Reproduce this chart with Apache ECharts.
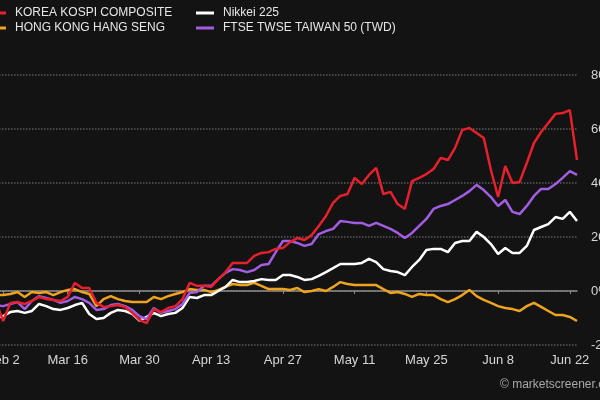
<!DOCTYPE html>
<html>
<head>
<meta charset="utf-8">
<script src="https://cdn.jsdelivr.net/npm/echarts@6/dist/echarts.min.js"></script>
<style>
  html, body { margin: 0; padding: 0; background: #131313; }
  #chart1 { width: 600px; height: 400px; }
</style>
</head>
<body>
<div id="chart1"></div>
<script>
// trading days shown on the axis
var days = [
  "Mar 2", "Mar 3", "Mar 4", "Mar 5", "Mar 6", "Mar 9", "Mar 10", "Mar 11", "Mar 12", "Mar 13",
  "Mar 16", "Mar 17", "Mar 18", "Mar 19", "Mar 20", "Mar 23", "Mar 24", "Mar 25", "Mar 26", "Mar 27",
  "Mar 30", "Mar 31", "Apr 1", "Apr 2", "Apr 3", "Apr 6", "Apr 7", "Apr 8", "Apr 9", "Apr 10",
  "Apr 13", "Apr 14", "Apr 15", "Apr 16", "Apr 17", "Apr 20", "Apr 21", "Apr 22", "Apr 23", "Apr 24",
  "Apr 27", "Apr 28", "Apr 29", "Apr 30", "May 1", "May 4", "May 5", "May 6", "May 7", "May 8",
  "May 11", "May 12", "May 13", "May 14", "May 15", "May 18", "May 19", "May 20", "May 21", "May 22",
  "May 25", "May 26", "May 27", "May 28", "May 29", "Jun 1", "Jun 2", "Jun 3", "Jun 4", "Jun 5",
  "Jun 8", "Jun 9", "Jun 10", "Jun 11", "Jun 12", "Jun 15", "Jun 16", "Jun 17", "Jun 18", "Jun 19",
  "Jun 22", "Jun 23"
];

var tickIndex = [1, 10, 20, 30, 40, 50, 60, 70, 80];
var tickText = ["Feb 2", "Mar 16", "Mar 30", "Apr 13", "Apr 27", "May 11", "May 25", "Jun 8", "Jun 22"];

// % change
var kospi = [
  -4, -11.1, -4.4, -4.1, -4.8, -3.7, -2.2, -3, -3.3, -3.7,
  -2.2, 3, 1.1, 1.1, -4.4, -5.9, -5.6, -5.2, -5.9, -8.1,
  -10.7, -11.9, -6.7, -7.8, -6.3, -5.6, -3, 3, 1.9, 1.9,
  1.5, 4.4, 7, 10.4, 10.4, 10.4, 13, 14.1, 14.4, 15.6,
  15.9, 18.1, 19.6, 18.9, 20.7, 24.1, 27.8, 32.6, 35.2, 35.9,
  41.9, 39.6, 43, 45.6, 35.9, 36.7, 32.2, 30.4, 40.7, 41.9,
  43.3, 45.2, 49.3, 48.5, 53, 59.6, 60.4, 58.5, 56.7, 44.8,
  34.8, 46.3, 40, 40.4, 47.4, 54.8, 58.9, 62.2, 65.6, 65.9,
  67, 48.5
];
var hangSeng = [
  -1.5, -1.5, -1.1, -0.4, -2.2, -0.4, -0.7, -0.4, -1.5, -0.4,
  0.4, 0.7, -0.4, -1.1, -5.6, -3, -1.9, -3, -3.7, -4.1,
  -4.1, -4.1, -2.2, -3, -1.9, -1.1, -0.4, 0.7, 0.4, 0.4,
  -0.4, 0.4, 1.5, 2.6, 2.2, 2.2, 3, 1.9, 0.7, 0.7,
  0.7, 0.4, 1.1, -0.4, 0, 0.7, 0, 1.5, 3.3, 2.6,
  2.2, 2.2, 2.2, 2.2, 0.7, -0.7, -0.4, -1.1, -2.2, -1.1,
  -1.5, -1.5, -3, -4.1, -3, -1.5, 0.4, -1.9, -3.3, -4.4,
  -5.6, -6.3, -6.7, -7.4, -5.6, -4.4, -5.9, -7.4, -8.9, -8.9,
  -9.6, -11.1
];
var nikkei = [
  -10, -9.3, -7.8, -7.4, -8.1, -7.4, -4.8, -5.6, -6.7, -7,
  -6.3, -5.2, -4.4, -8.5, -10.4, -10, -8.1, -7, -7.4, -8.5,
  -11, -9.6, -8.1, -9.3, -8.5, -8.1, -6.3, -2.2, -2.6, -1.5,
  -1.5, 0, 1.5, 4.1, 3.3, 3.3, 3.7, 4.4, 4.1, 4.1,
  5.9, 5.9, 5.2, 4.1, 4.4, 5.6, 7, 8.5, 10, 10,
  10, 10.4, 11.9, 10.7, 8.1, 7.4, 7, 5.9, 8.9, 11.5,
  15.2, 15.6, 15.6, 14.4, 17.8, 18.5, 18.5, 21.9, 20, 17.4,
  13.7, 15.9, 14.1, 14.1, 16.7, 22.6, 23.7, 24.8, 27.4, 26.7,
  29.3, 25.9
];
var taiwan50 = [
  -5.2, -5.6, -4.8, -4.1, -6.7, -3.7, -1.9, -2.6, -3.3, -4.4,
  -3.7, -2.2, -3, -4.4, -7, -6.7, -5.2, -4.8, -5.6, -7,
  -9.3, -10.4, -6.3, -8.1, -7.4, -6.7, -4.8, -0.7, -0.4, 1.9,
  1.9, 4.4, 6.7, 8.1, 7.8, 7, 7.8, 9.6, 10, 14.4,
  18.5, 18.5, 17.8, 16.7, 17.4, 21.1, 22.2, 23, 25.9, 25.6,
  25.2, 25.2, 24.1, 25.2, 24.1, 23, 21.5, 19.6, 21.5, 24.1,
  26.7, 30.4, 31.5, 32.2, 33.7, 35.2, 37, 39.3, 37.4, 34.8,
  31.5, 33.7, 29.3, 28.5, 31.5, 35.2, 37.8, 37.8, 39.6, 41.9,
  44.4, 43
];

var chartDom = document.getElementById("chart1");
var myChart = echarts.init(chartDom);

function isTick(index) {
  return tickIndex.indexOf(index) !== -1;
}

function legendItem(name, left, top) {
  return {
    data: [name],
    left: left,
    top: top,
    padding: 0,
    icon: "rect",
    itemWidth: 18,
    itemHeight: 3,
    selectedMode: false,
    textStyle: {
      color: "#e6e6e6",
      fontSize: 12,
      fontFamily: "Liberation Sans",
      padding: [0, 0, 0, 4],
    },
  };
}

function lineSeries(name, data, color) {
  return {
    name: name,
    type: "line",
    data: data,
    symbol: "none",
    lineStyle: { color: color, width: 2.5 },
    itemStyle: { color: color },
  };
}

var option = {
  backgroundColor: "#131313",
  animation: false,
  textStyle: { fontFamily: "Liberation Sans" },
  legend: [
    legendItem("KOREA KOSPI COMPOSITE", -12, 7),
    legendItem("HONG KONG HANG SENG", -12, 22),
    legendItem("Nikkei 225", 196, 7),
    legendItem("FTSE TWSE TAIWAN 50 (TWD)", 196, 22),
  ],
  grid: {
    left: -4,
    right: 23,
    top: 75,
    bottom: 55,
    containLabel: false,
    outerBoundsMode: "none",
  },
  xAxis: {
    type: "category",
    data: days,
    boundaryGap: false,
    axisLine: { lineStyle: { color: "#8a8a8a", width: 1.5 } },
    axisTick: {
      interval: isTick,
      length: 3,
      lineStyle: { color: "#8a8a8a" },
    },
    axisLabel: {
      interval: isTick,
      color: "#d6d6d6",
      fontSize: 13,
      margin: 9,
      formatter: function (value, index) {
        return tickText[tickIndex.indexOf(index)];
      },
    },
    splitLine: { show: false },
  },
  yAxis: {
    type: "value",
    position: "right",
    min: -20,
    max: 80,
    interval: 20,
    axisLine: { show: false },
    axisTick: { show: false },
    axisLabel: {
      color: "#d6d6d6",
      fontSize: 13,
      margin: 14,
      formatter: "{value}%",
    },
    splitLine: {
      lineStyle: { color: "#5c5c5c", type: "dotted", width: 1.5 },
    },
  },
  graphic: [
    {
      type: "text",
      left: 500,
      top: 379,
      style: {
        text: "\u00a9 marketscreener.com",
        fill: "#a8a8a8",
        font: "12px Liberation Sans",
      },
    },
  ],
  series: [
    lineSeries("HONG KONG HANG SENG", hangSeng, "#f0a41e"),
    lineSeries("Nikkei 225", nikkei, "#ffffff"),
    lineSeries("FTSE TWSE TAIWAN 50 (TWD)", taiwan50, "#a25de2"),
    lineSeries("KOREA KOSPI COMPOSITE", kospi, "#e6202c"),
  ],
};

option && myChart.setOption(option);
</script>
</body>
</html>
